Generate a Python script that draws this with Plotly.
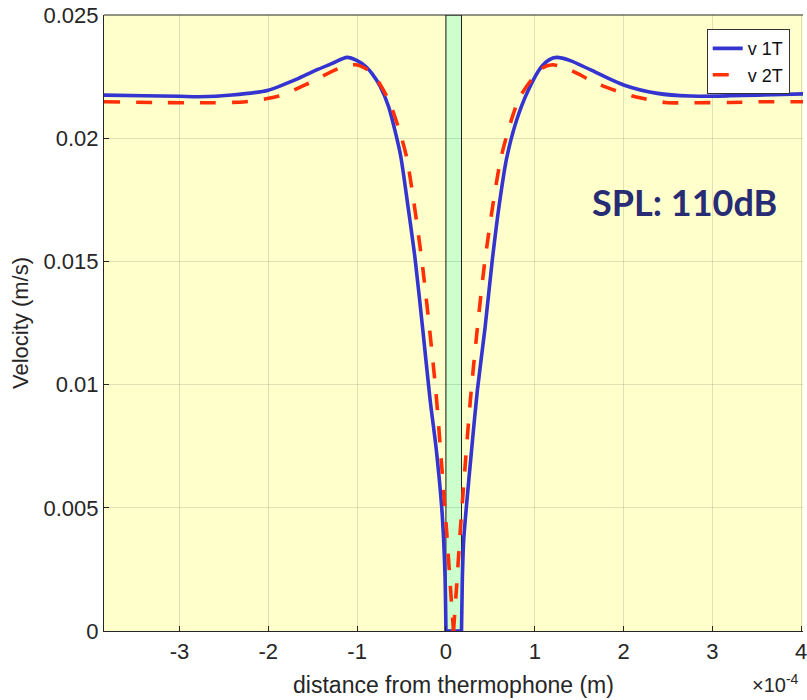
import plotly.graph_objects as go

# distance in units of 1e-4 m, velocity in m/s
x_1T = [-3.85, -3.4, -3.0, -2.78, -2.41, -2.0, -1.66, -1.45, -1.28, -1.115, -1.0, -0.9, -0.834,
        -0.74, -0.646, -0.515, -0.43, -0.346, -0.26, -0.178, -0.11, -0.047, -0.026, -0.01, 0.0,
        0.175, 0.185, 0.20, 0.234, 0.29, 0.354, 0.44, 0.52, 0.6, 0.683, 0.796, 0.927, 1.076,
        1.16, 1.245, 1.4, 1.63, 2.0, 2.38, 2.75, 3.2, 3.5, 4.03]
v_1T = [0.02175, 0.02172, 0.02170, 0.02168, 0.02175, 0.02195, 0.02243, 0.02278, 0.02304, 0.02328, 0.02315, 0.02290, 0.02263,
        0.02210, 0.02128, 0.01938, 0.01730, 0.01506, 0.01220, 0.00937, 0.00740, 0.00498, 0.00370, 0.00220, 0.0,
        0.0, 0.00220, 0.00370, 0.00520, 0.00740, 0.00978, 0.01230, 0.01500, 0.01730, 0.01918, 0.02074, 0.02195, 0.02290,
        0.02318, 0.02328, 0.02315, 0.02277, 0.02216, 0.02182, 0.02171, 0.02172, 0.02175, 0.02180]

x_2T = [-3.85, -3.3, -2.63, -2.256, -1.882, -1.545, -1.208, -1.02, -0.9, -0.815, -0.646, -0.515,
        -0.44, -0.272, -0.115, -0.05, 0.009, 0.05, 0.085, 0.12, 0.16, 0.285, 0.44, 0.627,
        0.834, 1.076, 1.2, 1.357, 1.74, 2.1, 2.47, 2.84, 3.2, 3.57, 3.95, 4.03]
v_2T = [0.02148, 0.02145, 0.02144, 0.02148, 0.02171, 0.02223, 0.02283, 0.02298, 0.02282, 0.02258, 0.02155, 0.02020,
        0.01918, 0.01506, 0.00978, 0.00680, 0.00398, 0.00180, 0.0, 0.00180, 0.00400, 0.00978, 0.01506, 0.01932,
        0.02168, 0.02283, 0.02298, 0.02283, 0.02216, 0.02171, 0.02145, 0.02144, 0.02145, 0.02148, 0.02148, 0.02148]

band = [0.0, 0.175]
x_ticks = [-3, -2, -1, 0, 1, 2, 3, 4]
x_tick_text = ["-3", "-2", "-1", "0", "1", "2", "3", "4"]
y_ticks = [0, 0.005, 0.01, 0.015, 0.02, 0.025]
y_tick_text = ["0", "0.005", "0.01", "0.015", "0.02", "0.025"]

series = [
    ("v 1T", x_1T, v_1T, "rgb(52,52,208)", "solid"),
    ("v 2T", x_2T, v_2T, "rgb(255,48,8)", "16px,16px"),
]

fig = go.Figure()
for name, xs, vs, col, dash in series:
    i = vs.index(min(vs))
    fig.add_trace(go.Scatter(x=xs[:i + 1], y=vs[:i + 1], mode="lines", name=name,
                             legendgroup=name, showlegend=True,
                             line=dict(color=col, width=3.6, dash=dash, shape="spline", smoothing=0.7)))
    j = i
    while j + 1 < len(vs) and vs[j + 1] == vs[i]:
        j += 1
    fig.add_trace(go.Scatter(x=xs[j:], y=vs[j:], mode="lines", name=name,
                             legendgroup=name, showlegend=False,
                             line=dict(color=col, width=3.6, dash=dash, shape="spline", smoothing=0.7)))
    if j > i:
        fig.add_trace(go.Scatter(x=xs[i:j + 1], y=vs[i:j + 1], mode="lines", name=name,
                                 legendgroup=name, showlegend=False,
                                 line=dict(color=col, width=3.6, dash=dash)))

fig.add_shape(type="rect", xref="x", yref="y", x0=band[0], x1=band[1], y0=0, y1=0.025,
              fillcolor="#ccffcc", line=dict(color="#222", width=1), layer="below")
fig.add_shape(type="line", xref="paper", yref="paper", x0=0, x1=1, y0=1, y1=1,
              line=dict(color="#262626", width=1.2))

fam = "Liberation Sans, Arial, sans-serif"
axis_font = dict(family=fam, size=22, color="#262626")

fig.update_layout(
    width=807, height=700,
    margin=dict(l=104, r=0, t=15, b=69),
    paper_bgcolor="white",
    plot_bgcolor="#ffffcc",
    showlegend=True,
    legend=dict(x=0.981, y=0.977, xanchor="right", yanchor="top",
                bgcolor="white", bordercolor="#333", borderwidth=1,
                font=dict(family=fam, size=18, color="#111"),
                tracegroupgap=0, itemwidth=30),
    xaxis=dict(range=[-3.85, 4.02], tickvals=x_ticks, ticktext=x_tick_text,
               ticklabeloverflow="allow",
               showgrid=True, gridcolor="rgba(0,0,0,0.12)", gridwidth=1,
               zeroline=False, showline=True, linecolor="#262626", linewidth=1.2,
               ticks="inside", ticklen=5, tickcolor="#262626",
               tickfont=axis_font,
               title=dict(text="distance from thermophone (m)", font=dict(family=fam, size=23, color="#262626"), standoff=14)),
    yaxis=dict(range=[0, 0.025], tickvals=y_ticks, ticktext=y_tick_text,
               showgrid=True, gridcolor="rgba(0,0,0,0.12)", gridwidth=1,
               zeroline=False, showline=True, linecolor="#262626", linewidth=1.2,
               ticks="inside", ticklen=5, tickcolor="#262626",
               tickfont=axis_font,
               title=dict(text="Velocity (m/s)", font=dict(family=fam, size=22, color="#262626"), standoff=8)),
)

fig.add_annotation(xref="paper", yref="paper", x=(688 - 104) / 703, y=(631 - 202) / 616,
                   text="<b>SPL: 110dB</b>", showarrow=False, xanchor="center", yanchor="middle",
                   font=dict(family="Lato, sans-serif", size=36, color="#282c74"))
fig.add_annotation(xref="paper", yref="paper", x=(805 - 104) / 703, y=-(698 - 631) / 616,
                   text="×10<sup>-4</sup>", showarrow=False, xanchor="right", yanchor="bottom",
                   font=dict(family=fam, size=20, color="#262626"))

fig.write_html("out.html")
